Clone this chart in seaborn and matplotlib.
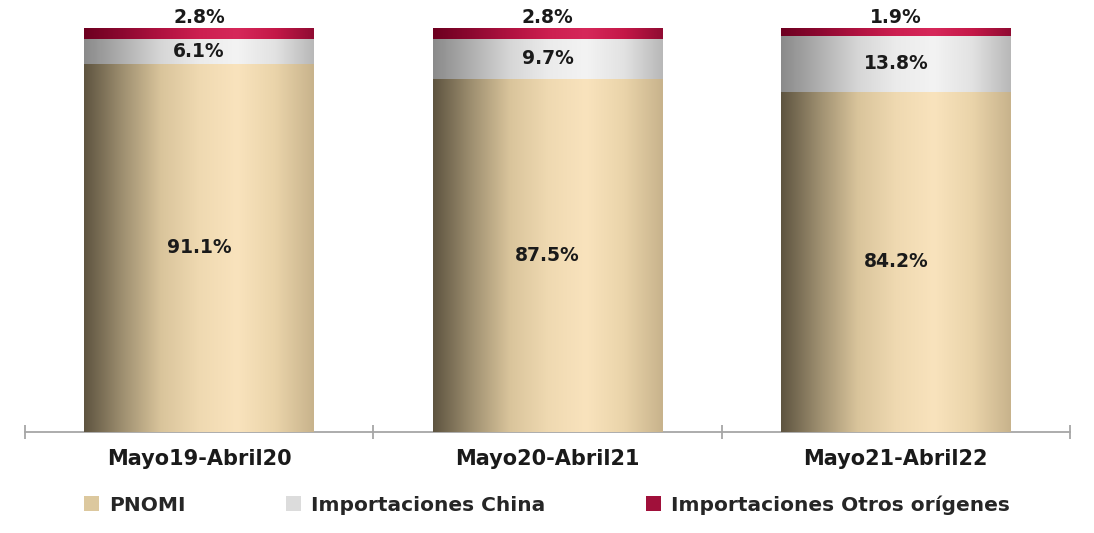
import numpy as np
import pandas as pd
import matplotlib
matplotlib.use("Agg")
import matplotlib.pyplot as plt
import seaborn as sns
from matplotlib.colors import LinearSegmentedColormap
from matplotlib.patches import Patch

categories = ["Mayo19-Abril20", "Mayo20-Abril21", "Mayo21-Abril22"]
pnomi = [91.1, 87.5, 84.2]
china = [6.1, 9.7, 13.8]
otros = [2.8, 2.8, 1.9]
series_names = ["PNOMI", "Importaciones China", "Importaciones Otros orígenes"]

sns.set_theme(style="white")
plt.rcParams['font.family'] = ['DejaVu Sans']

fig = plt.figure(figsize=(10.94, 5.33), dpi=100)
ax = fig.add_axes([25/1094, 101/533, 1045/1094, 404/533])

df = pd.DataFrame({"cat": categories, "pnomi": pnomi, "china": china, "otros": otros})
df["c2"] = df["pnomi"] + df["china"]
df["c3"] = df["c2"] + df["otros"]

base_colors = ["#e6cfa3", "#dcdcdc", "#b00c3c"]
grads = [
    ["#5e5440", "#9e8f70", "#d9c49b", "#efd9b1", "#f9e3bd", "#ead4aa", "#c8b38c"],
    ["#8a8a8a", "#b0b0b0", "#d6d6d6", "#ebebeb", "#f3f3f3", "#e2e2e2", "#b8b8b8"],
    ["#6d0020", "#8c0830", "#b01240", "#cc1f50", "#d6285a", "#c41848", "#900b32"],
]

w = 0.66
layers = [("c3", 2), ("c2", 1), ("pnomi", 0)]
for i, (col, ci) in enumerate(layers):
    n_before = len(ax.patches)
    sns.barplot(data=df, x="cat", y=col, color=base_colors[ci], width=w,
                ax=ax, zorder=2 + i, saturation=1, linewidth=0)
    cmap = LinearSegmentedColormap.from_list(f"g{ci}", grads[ci])
    grad = np.linspace(0, 1, 256).reshape(1, -1)
    for p in ax.patches[n_before:]:
        x0, y0 = p.get_x(), p.get_y()
        x1, y1 = x0 + p.get_width(), y0 + p.get_height()
        im = ax.imshow(grad, extent=[x0, x1, y0, y1], aspect="auto",
                       cmap=cmap, zorder=2 + i + 0.5, origin="lower")
        im.set_clip_path(p)

ax.set_xlim(-0.5, 2.5)
ax.set_ylim(0, 100)

# labels
for j in range(3):
    ax.text(j, pnomi[j] / 2, f"{pnomi[j]:.1f}%", ha="center", va="center",
            fontsize=13.5, fontweight="bold", color="#1a1a1a", zorder=10)
    ax.text(j, pnomi[j] + china[j] / 2, f"{china[j]:.1f}%", ha="center", va="center",
            fontsize=13.5, fontweight="bold", color="#1a1a1a", zorder=10)
    ax.text(j, 100.3, f"{otros[j]:.1f}%", ha="center", va="bottom",
            fontsize=13.5, fontweight="bold", color="#1a1a1a", zorder=10, clip_on=False)

for s in ["top", "right", "left"]:
    ax.spines[s].set_visible(False)
ax.spines["bottom"].set_color("#a6a6a6")
ax.spines["bottom"].set_linewidth(1.3)
ax.set_yticks([])
ax.set_xticks([0, 1, 2])
ax.set_xticklabels(categories, fontsize=15, fontweight="bold", color="#1a1a1a")
ax.tick_params(axis="x", which="major", length=0, pad=12)
ax.set_xticks([-0.5, 0.5, 1.5, 2.5], minor=True)
ax.tick_params(axis="x", which="minor", length=10, direction="inout",
               color="#a6a6a6", width=1.3, bottom=True)
ax.set_xlabel("")
ax.set_ylabel("")

handles = [Patch(facecolor=c, edgecolor="none") for c in ["#dcc89e", "#dcdcdc", "#a0103a"]]
fig.legend(handles, series_names, loc="center", bbox_to_anchor=(0.5, 28/533),
           ncol=3, frameon=False, handlelength=0.75, handleheight=0.75,
           columnspacing=5.0, handletextpad=0.5,
           prop={"size": 14.5, "weight": "bold"})

fig.savefig("out.png", dpi=100)
